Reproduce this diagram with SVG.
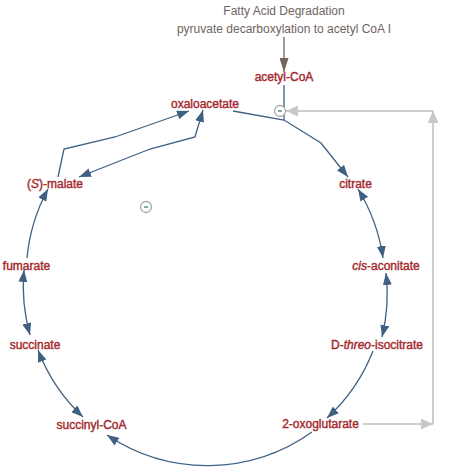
<svg xmlns="http://www.w3.org/2000/svg" width="465" height="473" viewBox="0 0 465 473">
<style>
text{font-family:"Liberation Sans",Arial,sans-serif;font-size:12px;text-anchor:middle}
.lbl{fill:#a3282c;stroke:#a3282c;stroke-width:0.4}
.src{fill:#6e6460}
.e{fill:none;stroke:#3f6080;stroke-width:1.3}
.g{fill:none;stroke:#bdbdbd;stroke-width:1.5}
.inh{fill:#fff;stroke:#a8a8a8;stroke-width:1.3}
.mn{stroke:#5b8f7c;stroke-width:1.5}
</style>
<defs>
<marker id="ab" markerUnits="userSpaceOnUse" markerWidth="13" markerHeight="9" refX="12" refY="4.5" orient="auto-start-reverse"><path d="M0,0 L12,4.5 L0,9 z" fill="#3f6080"/></marker>
<marker id="ag" markerUnits="userSpaceOnUse" markerWidth="13" markerHeight="11" refX="12" refY="5.5" orient="auto-start-reverse"><path d="M0,0 L12,5.5 L0,11 z" fill="#c8c8c8"/></marker>
<marker id="abr" markerUnits="userSpaceOnUse" markerWidth="15" markerHeight="9" refX="14" refY="4.5" orient="auto"><path d="M0,0 L14,4.5 L0,9 z" fill="#75635a"/></marker>
</defs>
<g id="connectors">
<line x1="284" y1="37" x2="284" y2="72" stroke="#75635a" stroke-width="1.3" marker-end="url(#abr)"/>
<path class="e" d="M284,85 L284,120"/>
<path class="e" d="M233,111 L284,120 L321,143 L348,177" marker-end="url(#ab)"/>
<path class="e" d="M58,177 L64,149 L115,137 L189,111" marker-end="url(#ab)"/>
<path class="e" d="M79,177 L150,149 L195,137 L203,110" marker-start="url(#ab)" marker-end="url(#ab)"/>
<path class="e" d="M358,189 A180,180 0 0 1 383,258" marker-start="url(#ab)" marker-end="url(#ab)"/>
<path class="e" d="M386,273 A180,180 0 0 1 382,337" marker-start="url(#ab)" marker-end="url(#ab)"/>
<path class="e" d="M373,351 A180,180 0 0 1 327,418" marker-end="url(#ab)"/>
<path class="e" d="M312,432 A180,180 0 0 1 107,435" marker-end="url(#ab)"/>
<path class="e" d="M83,417 A180,180 0 0 1 38,350" marker-start="url(#ab)" marker-end="url(#ab)"/>
<path class="e" d="M30,335 A180,180 0 0 1 24,270" marker-start="url(#ab)" marker-end="url(#ab)"/>
<path class="e" d="M27,258 A180,180 0 0 1 48,189" marker-end="url(#ab)"/>
<line class="g" x1="363" y1="424" x2="433" y2="424" marker-end="url(#ag)"/>
<line class="g" x1="433" y1="424" x2="433" y2="111" marker-end="url(#ag)"/>
<line class="g" x1="433" y1="111" x2="286" y2="111" marker-end="url(#ag)"/>
<g id="inhibit1"><circle class="inh" cx="280" cy="111" r="5.5"/><line class="mn" x1="278" y1="111" x2="282" y2="111"/></g>
<g id="inhibit2"><circle class="inh" cx="146" cy="207" r="5.5"/><line class="mn" x1="144" y1="207" x2="148" y2="207"/></g>
</g>
<g id="fatty-acid"><text class="src" x="284" y="15">Fatty Acid Degradation</text></g>
<g id="pyruvate"><text class="src" x="284" y="33">pyruvate decarboxylation to acetyl CoA I</text></g>
<g id="acetyl-coa"><text class="lbl" x="284" y="81">acetyl-CoA</text></g>
<g id="oxaloacetate"><text class="lbl" x="205" y="108">oxaloacetate</text></g>
<g id="citrate"><text class="lbl" x="355.5" y="188">citrate</text></g>
<g id="cis-aconitate"><text class="lbl" x="386" y="270"><tspan font-style="italic">cis</tspan>-aconitate</text></g>
<g id="isocitrate"><text class="lbl" x="377" y="349">D-<tspan font-style="italic">threo</tspan>-isocitrate</text></g>
<g id="oxoglutarate"><text class="lbl" x="320.5" y="428">2-oxoglutarate</text></g>
<g id="succinyl-coa"><text class="lbl" x="91.5" y="429">succinyl-CoA</text></g>
<g id="succinate"><text class="lbl" x="35" y="349">succinate</text></g>
<g id="fumarate"><text class="lbl" x="26.5" y="270">fumarate</text></g>
<g id="malate"><text class="lbl" x="55" y="188">(<tspan font-style="italic">S</tspan>)-malate</text></g>
</svg>
